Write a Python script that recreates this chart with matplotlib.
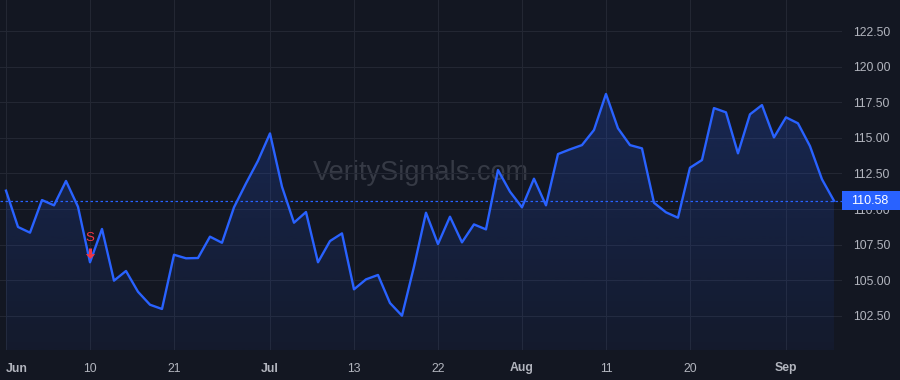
import numpy as np
import matplotlib
matplotlib.use("Agg")
import matplotlib.pyplot as plt
from matplotlib.patches import Rectangle
from matplotlib.transforms import IdentityTransform, offset_copy
from matplotlib.colors import to_rgb

# daily closes
prices = [111.29, 108.74, 108.34, 110.63, 110.26, 111.97, 110.16, 106.26, 108.60, 104.97,
          105.65, 104.19, 103.28, 102.98, 106.79, 106.54, 106.56, 108.06, 107.63, 110.12,
          111.80, 113.39, 115.31, 111.57, 109.04, 109.79, 106.26, 107.75, 108.29, 104.36,
          105.06, 105.37, 103.40, 102.51, 105.95, 109.74, 107.54, 109.46, 107.66, 108.92,
          108.57, 112.74, 111.22, 110.12, 112.13, 110.26, 113.86, 114.19, 114.49, 115.55,
          118.08, 115.67, 114.49, 114.26, 110.44, 109.77, 109.39, 112.90, 113.44, 117.09,
          116.79, 113.91, 116.65, 117.30, 115.03, 116.44, 116.02, 114.42, 112.09, 110.58]
x_tick_idx = [0, 7, 14, 22, 29, 36, 43, 50, 57, 65]
x_tick_labels = ["Jun", "10", "21", "Jul", "13", "22", "Aug", "11", "20", "Sep"]
month_labels = {"Jun", "Jul", "Aug", "Sep"}
y_ticks = [102.5, 105.0, 107.5, 110.0, 112.5, 115.0, 117.5, 120.0, 122.5]
sell_signals = [7]
watermark = "VeritySignals.com"

BG = "#131722"
BLUE = "#2962ff"
GRID = "#232733"
TXT = "#b2b5be"
RED = "#f23645"

plt.rcParams["font.family"] = ["Liberation Sans", "DejaVu Sans"]

fig = plt.figure(figsize=(9, 3.8), dpi=100, facecolor=BG)
ax = fig.add_axes([0, 30 / 380, 842 / 900, 350 / 380])
ax.set_facecolor(BG)

x = np.arange(len(prices))
y = np.array(prices)
ylo, yhi = 100.1, 124.68

# gradient area under the line
fill = ax.fill_between(x, y, ylo, color="none", lw=0)
grad = np.zeros((256, 1, 4))
grad[:, 0, :3] = to_rgb(BLUE)
grad[:, 0, 3] = np.linspace(0.05, 0.22, 256)
im = ax.imshow(grad, extent=[x[0], x[-1], ylo, y.max()], origin="lower",
               aspect="auto", zorder=1, interpolation="bilinear")
im.set_clip_path(fill.get_paths()[0], transform=ax.transData)

ax.plot(x, y, color=BLUE, lw=1.7, zorder=3)
ax.axhline(y[-1], color=BLUE, lw=0.9, ls=(0, (2, 2)), zorder=2)

# sell markers: "S" above a small down arrow
head = [(-1, 0.5), (1, 0.5), (0, -0.5), (-1, 0.5)]
for i in sell_signals:
    ax.annotate("S", xy=(i, y[i]), xytext=(0, 17.5), textcoords="offset points",
                ha="center", va="center", color=RED, fontsize=9.5, zorder=5)
    ax.plot([i], [y[i]], marker="|", ms=5.0, mew=2.2, color=RED, zorder=5,
            transform=offset_copy(ax.transData, fig=fig, x=0, y=8.4, units="points"))
    ax.plot([i], [y[i]], marker=head, ms=6.8, color=RED, mew=0, zorder=5,
            transform=offset_copy(ax.transData, fig=fig, x=0, y=4.8, units="points"))

ax.text(0.4995, 0.505, watermark, transform=ax.transAxes, ha="center",
        va="center", fontsize=19.5, color="#363a45", zorder=0.5)

ax.set_xlim(-0.5, 69.67)
ax.set_ylim(ylo, yhi)

ax.set_xticks(x_tick_idx)
ax.set_xticklabels(x_tick_labels)
for lbl in ax.get_xticklabels():
    if lbl.get_text() in month_labels:
        lbl.set_fontweight("bold")
ax.get_xticklabels()[0].set_horizontalalignment("left")
ax.set_yticks(y_ticks)
ax.set_yticklabels([f"{v:.2f}" for v in y_ticks])
ax.yaxis.tick_right()
ax.tick_params(axis="both", length=0, colors=TXT, labelsize=8.8)
ax.tick_params(axis="y", pad=8)
ax.tick_params(axis="x", pad=9)
ax.grid(True, color=GRID, lw=0.8)
ax.set_axisbelow(True)
for s in ax.spines.values():
    s.set_visible(False)

# last price badge on the price scale (covers the 110.00 label, as in the source)
fig.canvas.draw()
py = ax.transData.transform((0, y[-1]))[1]
fig.add_artist(Rectangle((842, py - 9.5), 58, 19, transform=IdentityTransform(),
                         facecolor=BLUE, edgecolor="none", zorder=10))
fig.text(870, py, f"{y[-1]:.2f}", transform=IdentityTransform(), color="white",
         fontsize=9, ha="center", va="center", zorder=11)

fig.savefig("out.png", dpi=100, facecolor=BG)
